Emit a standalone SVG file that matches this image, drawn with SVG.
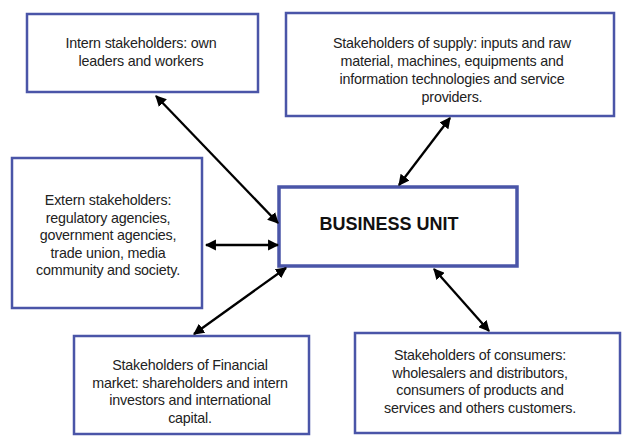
<svg xmlns="http://www.w3.org/2000/svg" width="624" height="436" viewBox="0 0 624 436">
<style>
.box{fill:#fff;stroke:#4a55a8;stroke-width:2.5}
.bu{fill:#fff;stroke:#4a55a8;stroke-width:3.5}
.t{font-family:"Liberation Sans",Arial,sans-serif;font-size:14.3px;fill:#222;text-anchor:middle;letter-spacing:-0.2px}
.b{font-family:"Liberation Sans",Arial,sans-serif;font-size:18px;font-weight:bold;fill:#111;text-anchor:middle}
.c{stroke:#000;stroke-width:2.3;fill:none;marker-start:url(#ah);marker-end:url(#ah)}
</style>
<defs>
<marker id="ah" viewBox="0 0 10 10" refX="9" refY="5" markerWidth="4.8" markerHeight="4.8" orient="auto-start-reverse" markerUnits="strokeWidth">
<path d="M0,0 L10,5 L0,10 z" fill="#000"/>
</marker>
</defs>
<rect width="624" height="436" fill="#fff"/>
<g id="intern">
<rect class="box" x="27" y="14" width="231" height="78"/>
<text class="t" x="141" y="48">Intern stakeholders: own</text>
<text class="t" x="141" y="66">leaders and workers</text>
</g>
<g id="supply">
<rect class="box" x="286" y="13" width="328" height="103"/>
<text class="t" x="452" y="48">Stakeholders of supply: inputs and raw</text>
<text class="t" x="452" y="66">material, machines, equipments and</text>
<text class="t" x="452" y="84">information technologies and service</text>
<text class="t" x="452" y="102">providers.</text>
</g>
<g id="extern">
<rect class="box" x="12" y="158" width="190" height="150"/>
<text class="t" x="108" y="205">Extern stakeholders:</text>
<text class="t" x="108" y="223">regulatory agencies,</text>
<text class="t" x="108" y="240">government agencies,</text>
<text class="t" x="108" y="258">trade union, media</text>
<text class="t" x="108" y="275">community and society.</text>
</g>
<g id="business">
<rect class="bu" x="279" y="187" width="238" height="79"/>
<text class="b" x="389" y="230">BUSINESS UNIT</text>
</g>
<g id="financial">
<rect class="box" x="74" y="336" width="235" height="98"/>
<text class="t" x="190" y="370">Stakeholders of Financial</text>
<text class="t" x="190" y="388">market: shareholders and intern</text>
<text class="t" x="190" y="405">investors and international</text>
<text class="t" x="190" y="423">capital.</text>
</g>
<g id="consumers">
<rect class="box" x="355" y="333" width="265" height="100"/>
<text class="t" x="480" y="360">Stakeholders of consumers:</text>
<text class="t" x="480" y="378">wholesalers and distributors,</text>
<text class="t" x="480" y="395">consumers of products and</text>
<text class="t" x="480" y="413">services and others customers.</text>
</g>
<g id="connectors">
<line class="c" x1="156" y1="96" x2="278" y2="223"/>
<line class="c" x1="399" y1="185" x2="450" y2="118"/>
<line class="c" x1="206" y1="245" x2="278" y2="245"/>
<line class="c" x1="194" y1="334" x2="286" y2="268"/>
<line class="c" x1="434" y1="269" x2="489" y2="331"/>
</g>
</svg>
